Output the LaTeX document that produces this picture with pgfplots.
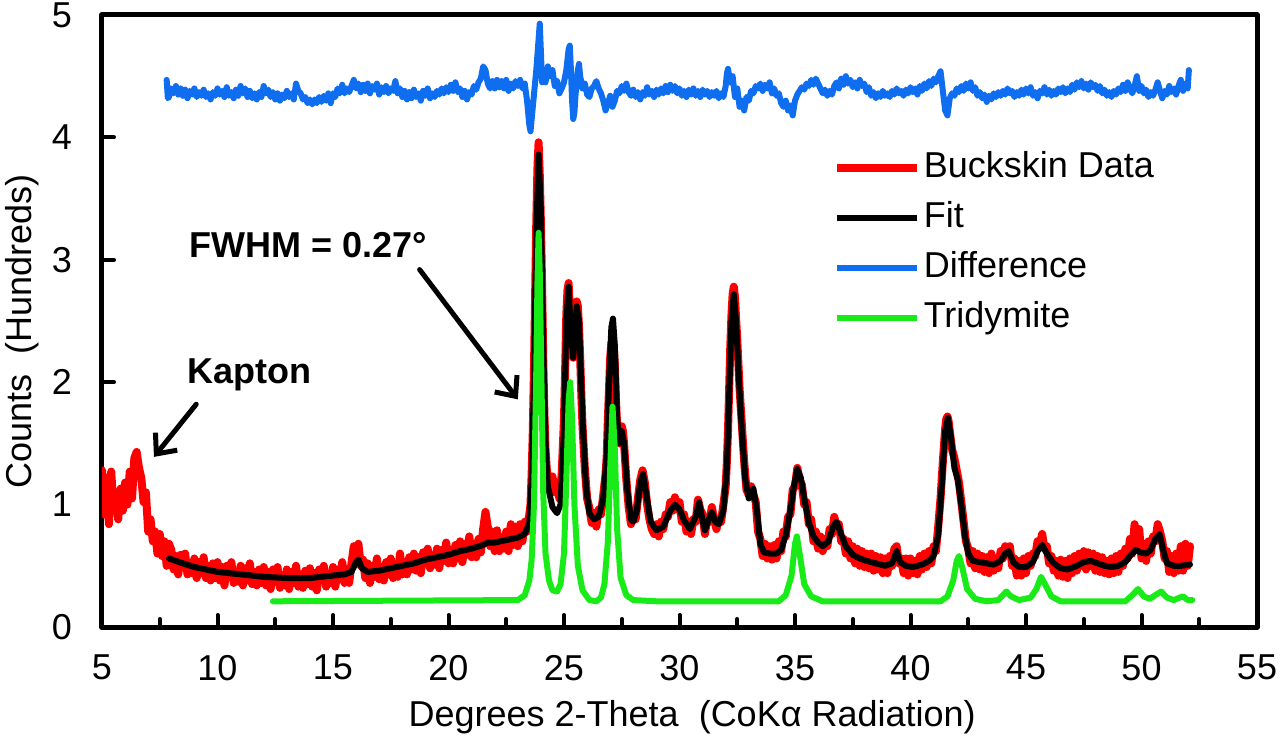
\documentclass[border=0pt]{standalone}
\usepackage{fontspec}
\setmainfont{Liberation Sans}
\usepackage{pgfplots}
\pgfplotsset{compat=1.18}
\usetikzlibrary{arrows.meta}

\definecolor{dataRed}{RGB}{255,0,0}
\definecolor{diffBlue}{RGB}{15,110,240}
\definecolor{tridGreen}{RGB}{25,235,25}

\begin{document}
\begin{tikzpicture}
\path[use as bounding box] (-51pt,-61.5pt) rectangle (589pt,313.5pt);
\begin{axis}[
  scale only axis,
  width=577.5pt, height=306pt,
  xmin=5, xmax=55, ymin=0, ymax=5,
  xtick={5,10,...,55}, ytick={0,1,...,5},
  minor x tick num=1,
  xtick pos=bottom, ytick pos=left,
  tick align=inside,
  major tick length=6pt, minor tick length=4pt,
  every tick/.style={black, line width=2pt},
  axis line style={line width=2.5pt, black},
  font=\fontsize{18}{21.6}\selectfont,
  /pgf/number format/assume math mode=true,
  ticklabel style={font=\fontsize{18}{21.6}\selectfont},
  xticklabel style={yshift=-10.5pt},
  yticklabel style={xshift=-11.5pt},
  xlabel={Degrees 2-Theta\ \ (CoKα Radiation)},
  ylabel={Counts\ \ (Hundreds)},
  xlabel style={at={(axis description cs:0.511,0)}, anchor=center, yshift=-45pt},
  ylabel style={at={(axis description cs:-0.0693,0.483)}, anchor=center},
  legend cell align=left,
  legend style={draw=none, fill=none, inner sep=0pt,
    at={(axis cs:36.62,3.915)}, anchor=north west,
    row sep=5pt,
    nodes={inner sep=1.5pt, text height=13pt, text depth=4pt},
    font=\fontsize{18}{21.6}\selectfont},
  legend image code/.code={\draw[#1] (0pt,0pt) -- (40pt,0pt);},
  line join=round, line cap=round,
]

% measured pattern
\addplot[dataRed, line width=4pt] coordinates {
(5.0,1.28)(5.1,0.92)(5.2,1.22)(5.3,0.84)(5.4,1.27)(5.5,0.95)(5.6,1.10)(5.7,0.88)(5.8,1.13)(5.9,0.95)
(6.0,1.18)(6.1,1.00)(6.2,1.27)(6.3,1.05)(6.4,1.38)(6.5,1.43)(6.6,1.30)(6.7,1.22)(6.8,1.02)(6.9,1.10)
(7.0,0.78)(7.1,0.88)(7.2,0.70)(7.3,0.78)(7.4,0.60)(7.5,0.76)(7.6,0.58)(7.7,0.70)(7.8,0.50)(7.9,0.68)
(8.0,0.63)(8.1,0.47)(8.2,0.58)(8.3,0.43)(8.4,0.59)(8.5,0.49)(8.6,0.60)(8.7,0.43)(8.8,0.52)(8.9,0.44)
(9.0,0.56)(9.1,0.40)(9.2,0.53)(9.3,0.44)(9.4,0.57)(9.5,0.40)(9.6,0.50)(9.7,0.38)(9.8,0.52)(9.9,0.40)
(10.0,0.53)(10.1,0.38)(10.2,0.49)(10.3,0.34)(10.4,0.50)(10.5,0.41)(10.6,0.53)(10.7,0.36)(10.8,0.45)(10.9,0.37)
(11.0,0.50)(11.1,0.34)(11.2,0.48)(11.3,0.38)(11.4,0.52)(11.5,0.35)(11.6,0.45)(11.7,0.34)(11.8,0.47)(11.9,0.36)
(12.0,0.49)(12.1,0.34)(12.2,0.45)(12.3,0.31)(12.4,0.47)(12.5,0.37)(12.6,0.49)(12.7,0.32)(12.8,0.42)(12.9,0.34)
(13.0,0.47)(13.1,0.31)(13.2,0.45)(13.3,0.36)(13.4,0.50)(13.5,0.33)(13.6,0.43)(13.7,0.32)(13.8,0.46)(13.9,0.35)
(14.0,0.48)(14.1,0.33)(14.2,0.44)(14.3,0.30)(14.4,0.47)(14.5,0.38)(14.6,0.50)(14.7,0.33)(14.8,0.43)(14.9,0.36)
(15.0,0.49)(15.1,0.33)(15.2,0.47)(15.3,0.39)(15.4,0.53)(15.5,0.36)(15.6,0.47)(15.7,0.36)(15.8,0.52)(15.9,0.66)
(16.0,0.60)(16.1,0.68)(16.2,0.50)(16.3,0.55)(16.4,0.40)(16.5,0.52)(16.6,0.36)(16.7,0.50)(16.8,0.41)(16.9,0.56)
(17.0,0.39)(17.1,0.49)(17.2,0.38)(17.3,0.53)(17.4,0.43)(17.5,0.56)(17.6,0.40)(17.7,0.51)(17.8,0.41)(17.9,0.60)
(18.0,0.43)(18.1,0.53)(18.2,0.43)(18.3,0.57)(18.4,0.47)(18.5,0.60)(18.6,0.46)(18.7,0.57)(18.8,0.44)(18.9,0.61)
(19.0,0.52)(19.1,0.64)(19.2,0.48)(19.3,0.58)(19.4,0.51)(19.5,0.64)(19.6,0.48)(19.7,0.63)(19.8,0.54)(19.9,0.69)
(20.0,0.52)(20.1,0.63)(20.2,0.52)(20.3,0.67)(20.4,0.56)(20.5,0.70)(20.6,0.53)(20.7,0.68)(20.8,0.59)(20.9,0.74)
(21.0,0.57)(21.1,0.68)(21.2,0.57)(21.3,0.72)(21.4,0.61)(21.5,0.80)(21.6,0.94)(21.7,0.82)(21.8,0.66)(21.9,0.78)
(22.0,0.62)(22.1,0.79)(22.2,0.62)(22.3,0.73)(22.4,0.64)(22.5,0.78)(22.6,0.62)(22.7,0.84)(22.8,0.67)(22.9,0.82)
(23.0,0.66)(23.1,0.84)(23.2,0.70)(23.3,0.86)(23.4,0.78)(23.5,0.92)(23.55,1.00)(23.6,1.25)(23.65,1.60)(23.7,2.10)
(23.75,2.70)(23.8,3.30)(23.85,3.75)(23.9,3.96)(23.95,3.70)(24.0,3.30)(24.05,2.80)(24.1,2.20)(24.15,1.75)(24.2,1.45)
(24.25,1.30)(24.3,1.22)(24.4,1.12)(24.5,1.23)(24.6,1.10)(24.7,1.18)(24.8,1.05)(24.9,1.25)(25.0,1.70)(25.05,2.10)
(25.1,2.55)(25.15,2.75)(25.2,2.81)(25.25,2.60)(25.3,2.40)(25.35,2.25)(25.4,2.20)(25.45,2.35)(25.5,2.55)(25.55,2.66)
(25.6,2.62)(25.65,2.45)(25.7,2.20)(25.75,1.90)(25.8,1.65)(25.9,1.30)(26.0,1.05)(26.1,0.97)(26.2,0.85)(26.3,0.93)
(26.4,0.82)(26.5,0.96)(26.6,0.92)(26.7,1.08)(26.8,1.25)(26.85,1.40)(26.9,1.70)(26.95,1.95)(27.0,2.20)(27.05,2.32)
(27.1,2.35)(27.15,2.30)(27.2,2.15)(27.25,1.85)(27.3,1.65)(27.35,1.52)(27.4,1.50)(27.45,1.58)(27.5,1.64)(27.55,1.60)
(27.6,1.50)(27.7,1.20)(27.8,0.98)(27.9,0.84)(28.0,0.92)(28.1,0.88)(28.2,1.05)(28.3,1.20)(28.4,1.28)(28.5,1.18)
(28.6,1.00)(28.7,0.88)(28.8,0.80)(28.9,0.76)(29.0,0.84)(29.1,0.74)(29.2,0.86)(29.3,0.80)(29.4,0.92)(29.5,0.90)
(29.6,1.02)(29.7,0.95)(29.8,1.06)(29.9,0.96)(30.0,1.02)(30.1,0.86)(30.2,0.92)(30.3,0.78)(30.4,0.86)(30.5,0.76)
(30.6,0.88)(30.7,0.86)(30.8,1.04)(30.9,0.96)(31.0,0.92)(31.1,0.76)(31.2,0.88)(31.3,0.86)(31.4,0.98)(31.5,0.88)
(31.6,0.80)(31.7,0.88)(31.8,0.86)(31.9,1.00)(32.0,1.15)(32.05,1.35)(32.1,1.60)(32.15,1.95)(32.2,2.30)(32.25,2.55)
(32.3,2.72)(32.35,2.78)(32.4,2.70)(32.45,2.52)(32.5,2.35)(32.55,2.15)(32.6,1.95)(32.7,1.65)(32.8,1.35)(32.9,1.12)
(33.0,1.08)(33.1,1.15)(33.2,1.08)(33.3,1.02)(33.4,0.78)(33.5,0.72)(33.6,0.58)(33.7,0.68)(33.8,0.56)(33.9,0.66)
(34.0,0.55)(34.1,0.67)(34.2,0.56)(34.3,0.70)(34.4,0.62)(34.5,0.78)(34.6,0.74)(34.7,0.90)(34.8,0.92)(34.9,1.12)
(35.0,1.15)(35.1,1.30)(35.2,1.20)(35.3,1.16)(35.4,1.00)(35.5,1.02)(35.6,0.84)(35.7,0.88)(35.8,0.70)(35.9,0.78)
(36.0,0.64)(36.1,0.74)(36.2,0.62)(36.3,0.72)(36.4,0.66)(36.5,0.80)(36.6,0.76)(36.7,0.90)(36.8,0.82)(36.9,0.84)
(37.0,0.70)(37.1,0.72)(37.2,0.60)(37.3,0.70)(37.4,0.56)(37.5,0.66)(37.6,0.52)(37.7,0.64)(37.8,0.50)(37.9,0.62)
(38.0,0.49)(38.1,0.60)(38.2,0.48)(38.3,0.60)(38.4,0.46)(38.5,0.58)(38.6,0.47)(38.7,0.57)(38.8,0.44)(38.9,0.56)
(39.0,0.44)(39.1,0.58)(39.2,0.50)(39.3,0.64)(39.4,0.66)(39.5,0.52)(39.6,0.56)(39.7,0.44)(39.8,0.56)(39.9,0.42)
(40.0,0.56)(40.1,0.44)(40.2,0.54)(40.3,0.43)(40.4,0.58)(40.5,0.47)(40.6,0.60)(40.7,0.49)(40.8,0.62)(40.9,0.52)
(41.0,0.66)(41.1,0.62)(41.2,0.82)(41.3,1.05)(41.4,1.35)(41.5,1.62)(41.55,1.70)(41.6,1.72)(41.65,1.68)(41.7,1.60)
(41.8,1.45)(41.9,1.38)(42.0,1.28)(42.1,1.18)(42.2,1.02)(42.3,0.86)(42.4,0.70)(42.5,0.64)(42.6,0.52)(42.7,0.62)
(42.8,0.48)(42.9,0.60)(43.0,0.47)(43.1,0.58)(43.2,0.45)(43.3,0.57)(43.4,0.44)(43.5,0.60)(43.6,0.46)(43.7,0.56)
(43.8,0.48)(43.9,0.62)(44.0,0.56)(44.1,0.66)(44.2,0.60)(44.3,0.66)(44.4,0.50)(44.5,0.56)(44.6,0.42)(44.7,0.54)
(44.8,0.42)(44.9,0.56)(45.0,0.44)(45.1,0.58)(45.2,0.50)(45.3,0.60)(45.4,0.58)(45.5,0.70)(45.6,0.68)(45.7,0.76)
(45.8,0.64)(45.9,0.66)(46.0,0.52)(46.1,0.58)(46.2,0.46)(46.3,0.54)(46.4,0.42)(46.5,0.55)(46.6,0.41)(46.7,0.54)
(46.8,0.40)(46.9,0.56)(47.0,0.44)(47.1,0.58)(47.2,0.46)(47.3,0.60)(47.4,0.50)(47.5,0.62)(47.6,0.47)(47.7,0.61)
(47.8,0.50)(47.9,0.60)(48.0,0.46)(48.1,0.58)(48.2,0.45)(48.3,0.57)(48.4,0.44)(48.5,0.54)(48.6,0.43)(48.7,0.56)
(48.8,0.44)(48.9,0.58)(49.0,0.45)(49.1,0.60)(49.2,0.50)(49.3,0.64)(49.4,0.56)(49.5,0.72)(49.6,0.60)(49.7,0.84)
(49.8,0.66)(49.9,0.80)(50.0,0.56)(50.1,0.68)(50.2,0.54)(50.3,0.70)(50.4,0.60)(50.5,0.74)(50.6,0.70)(50.7,0.84)
(50.8,0.78)(50.9,0.70)(51.0,0.56)(51.1,0.62)(51.2,0.45)(51.3,0.58)(51.4,0.44)(51.5,0.60)(51.6,0.46)(51.7,0.66)
(51.8,0.46)(51.9,0.68)(52.0,0.50)(52.1,0.66)
};
\addlegendentry{Buckskin Data}

% refined fit
\addplot[black, line width=3pt] coordinates {
(7.9,0.56)(8.5,0.52)(9.0,0.49)(9.5,0.47)(10.0,0.45)(10.5,0.44)(11.0,0.43)(11.5,0.42)(12.0,0.41)(12.5,0.405)
(13.0,0.40)(13.5,0.40)(14.0,0.40)(14.5,0.41)(15.0,0.42)(15.5,0.43)(15.8,0.45)(16.0,0.53)(16.1,0.55)(16.25,0.48)
(16.5,0.45)(17.0,0.46)(17.5,0.48)(18.0,0.50)(18.5,0.52)(19.0,0.55)(19.5,0.57)(20.0,0.59)(20.5,0.62)(21.0,0.64)
(21.5,0.67)(21.7,0.69)(22.0,0.69)(22.5,0.71)(23.0,0.73)(23.3,0.76)(23.5,0.85)(23.6,1.20)(23.7,2.00)(23.8,3.20)
(23.9,3.86)(24.0,3.40)(24.1,2.30)(24.2,1.50)(24.3,1.15)(24.5,0.98)(24.7,0.93)(24.85,1.00)(25.0,1.60)(25.1,2.50)
(25.2,2.78)(25.3,2.40)(25.4,2.20)(25.55,2.62)(25.65,2.50)(25.8,1.70)(25.95,1.15)(26.1,0.93)(26.3,0.88)(26.5,0.90)
(26.7,1.05)(26.85,1.40)(26.95,2.00)(27.05,2.45)(27.12,2.52)(27.2,2.30)(27.3,1.70)(27.4,1.50)(27.5,1.60)(27.6,1.50)
(27.75,1.10)(27.9,0.88)(28.0,0.86)(28.15,0.95)(28.3,1.18)(28.42,1.25)(28.55,1.10)(28.75,0.86)(29.0,0.79)(29.3,0.82)
(29.6,0.95)(29.8,1.00)(30.0,0.96)(30.2,0.87)(30.45,0.80)(30.7,0.90)(30.85,1.02)(31.0,0.87)(31.1,0.79)(31.25,0.87)
(31.4,0.94)(31.55,0.86)(31.7,0.84)(31.9,0.95)(32.05,1.30)(32.15,1.90)(32.25,2.50)(32.35,2.72)(32.45,2.50)(32.55,2.10)
(32.7,1.60)(32.85,1.20)(33.0,1.05)(33.2,1.13)(33.35,0.95)(33.5,0.68)(33.65,0.61)(33.9,0.60)(34.2,0.60)(34.4,0.63)
(34.6,0.75)(34.8,0.95)(34.95,1.15)(35.1,1.29)(35.25,1.22)(35.4,1.05)(35.6,0.85)(35.8,0.74)(36.0,0.69)(36.2,0.66)
(36.45,0.70)(36.65,0.82)(36.8,0.86)(36.95,0.78)(37.2,0.66)(37.5,0.59)(37.8,0.56)(38.1,0.54)(38.5,0.52)(38.9,0.50)
(39.2,0.52)(39.4,0.62)(39.55,0.53)(39.8,0.50)(40.1,0.49)(40.5,0.51)(40.8,0.54)(41.0,0.58)(41.2,0.75)(41.35,1.15)
(41.5,1.60)(41.62,1.71)(41.75,1.55)(41.9,1.30)(42.05,1.20)(42.2,1.00)(42.35,0.75)(42.5,0.60)(42.7,0.54)(43.0,0.53)
(43.3,0.52)(43.6,0.51)(43.9,0.54)(44.1,0.60)(44.25,0.62)(44.45,0.53)(44.7,0.49)(45.0,0.49)(45.3,0.53)(45.5,0.62)
(45.7,0.67)(45.9,0.60)(46.2,0.52)(46.5,0.48)(46.8,0.47)(47.2,0.50)(47.5,0.53)(47.8,0.54)(48.1,0.52)(48.4,0.50)
(48.7,0.49)(49.0,0.50)(49.3,0.53)(49.5,0.58)(49.75,0.63)(49.95,0.61)(50.2,0.60)(50.4,0.63)(50.6,0.72)(50.78,0.76)
(50.95,0.62)(51.1,0.52)(51.4,0.50)(51.7,0.50)(52.1,0.51)
};
\addlegendentry{Fit}

% difference curve, offset upward
\addplot[diffBlue, line width=3pt] coordinates {
(7.8,4.47)(7.85,4.32)(7.9,4.33)(8.0,4.40)(8.1,4.36)(8.2,4.42)(8.3,4.35)(8.4,4.40)(8.5,4.34)(8.6,4.39)(8.7,4.32)
(8.8,4.38)(8.9,4.35)(9.0,4.40)(9.1,4.33)(9.2,4.37)(9.3,4.34)(9.4,4.39)(9.5,4.33)(9.6,4.36)(9.7,4.31)
(9.8,4.37)(9.9,4.34)(10.0,4.40)(10.1,4.35)(10.2,4.38)(10.3,4.33)(10.4,4.41)(10.5,4.34)(10.6,4.37)(10.7,4.32)
(10.8,4.39)(10.9,4.34)(11.0,4.42)(11.1,4.36)(11.2,4.40)(11.3,4.33)(11.4,4.38)(11.5,4.32)(11.6,4.36)(11.7,4.31)
(11.8,4.37)(11.9,4.33)(12.0,4.42)(12.1,4.36)(12.2,4.39)(12.3,4.33)(12.4,4.37)(12.5,4.31)(12.6,4.36)(12.7,4.30)
(12.8,4.35)(12.9,4.32)(13.0,4.38)(13.1,4.33)(13.2,4.36)(13.3,4.31)(13.4,4.44)(13.5,4.38)(13.6,4.36)(13.7,4.31)
(13.8,4.33)(13.9,4.28)(14.0,4.31)(14.1,4.27)(14.2,4.31)(14.3,4.28)(14.4,4.33)(14.5,4.29)(14.6,4.34)(14.7,4.30)
(14.8,4.36)(14.9,4.28)(15.0,4.36)(15.1,4.33)(15.2,4.40)(15.3,4.36)(15.4,4.43)(15.5,4.36)(15.6,4.40)(15.7,4.37)
(15.8,4.42)(15.9,4.47)(16.0,4.40)(16.1,4.44)(16.2,4.37)(16.3,4.43)(16.4,4.38)(16.5,4.44)(16.6,4.36)(16.7,4.42)
(16.8,4.39)(16.9,4.44)(17.0,4.35)(17.1,4.41)(17.2,4.37)(17.3,4.42)(17.4,4.36)(17.5,4.40)(17.6,4.38)(17.7,4.46)
(17.8,4.36)(17.9,4.40)(18.0,4.33)(18.1,4.38)(18.2,4.31)(18.3,4.37)(18.4,4.32)(18.5,4.39)(18.6,4.33)(18.7,4.36)
(18.8,4.30)(18.9,4.38)(19.0,4.34)(19.1,4.40)(19.2,4.32)(19.3,4.36)(19.4,4.33)(19.5,4.38)(19.6,4.35)(19.7,4.40)
(19.8,4.36)(19.9,4.41)(20.0,4.37)(20.1,4.43)(20.2,4.38)(20.3,4.45)(20.4,4.37)(20.5,4.40)(20.6,4.33)(20.7,4.38)
(20.8,4.31)(20.9,4.37)(21.0,4.35)(21.1,4.42)(21.2,4.39)(21.3,4.45)(21.4,4.48)(21.5,4.58)(21.6,4.55)(21.7,4.44)
(21.8,4.40)(21.9,4.46)(22.0,4.40)(22.1,4.47)(22.2,4.41)(22.3,4.46)(22.4,4.40)(22.5,4.47)(22.6,4.38)(22.7,4.44)
(22.8,4.40)(22.9,4.46)(23.0,4.42)(23.1,4.47)(23.2,4.40)(23.3,4.44)(23.4,4.30)(23.5,4.10)(23.55,4.05)(23.6,4.15)
(23.7,4.35)(23.8,4.55)(23.9,4.80)(23.95,4.93)(24.0,4.70)(24.05,4.45)(24.1,4.52)(24.2,4.45)(24.3,4.58)(24.4,4.50)
(24.5,4.55)(24.6,4.42)(24.7,4.46)(24.8,4.36)(24.9,4.40)(25.0,4.45)(25.1,4.55)(25.2,4.72)(25.25,4.75)(25.3,4.55)
(25.35,4.30)(25.4,4.15)(25.45,4.20)(25.5,4.35)(25.6,4.55)(25.65,4.60)(25.7,4.50)(25.8,4.40)(25.9,4.44)(26.0,4.35)
(26.1,4.33)(26.2,4.40)(26.3,4.42)(26.4,4.46)(26.5,4.40)(26.6,4.36)(26.7,4.30)(26.8,4.22)(26.9,4.28)(27.0,4.34)
(27.1,4.25)(27.2,4.30)(27.3,4.38)(27.4,4.36)(27.5,4.42)(27.6,4.38)(27.7,4.44)(27.8,4.37)(27.9,4.34)(28.0,4.39)
(28.1,4.33)(28.2,4.37)(28.3,4.31)(28.4,4.37)(28.5,4.34)(28.6,4.41)(28.7,4.35)(28.8,4.38)(28.9,4.33)(29.0,4.39)
(29.1,4.35)(29.2,4.40)(29.3,4.36)(29.4,4.42)(29.5,4.37)(29.6,4.43)(29.7,4.38)(29.8,4.42)(29.9,4.36)(30.0,4.40)
(30.1,4.34)(30.2,4.38)(30.3,4.33)(30.4,4.39)(30.5,4.35)(30.6,4.40)(30.7,4.34)(30.8,4.38)(30.9,4.33)(31.0,4.39)
(31.1,4.35)(31.2,4.38)(31.3,4.33)(31.4,4.37)(31.5,4.34)(31.6,4.38)(31.7,4.32)(31.8,4.36)(31.9,4.33)(32.0,4.42)
(32.05,4.52)(32.1,4.56)(32.2,4.45)(32.3,4.50)(32.4,4.33)(32.5,4.40)(32.6,4.25)(32.7,4.30)(32.8,4.22)(32.9,4.33)
(33.0,4.30)(33.1,4.38)(33.2,4.36)(33.3,4.42)(33.4,4.40)(33.5,4.44)(33.6,4.38)(33.7,4.43)(33.8,4.40)(33.9,4.45)
(34.0,4.36)(34.1,4.40)(34.2,4.34)(34.3,4.36)(34.4,4.28)(34.5,4.25)(34.6,4.30)(34.7,4.22)(34.8,4.26)(34.9,4.18)
(35.0,4.30)(35.1,4.35)(35.2,4.38)(35.3,4.41)(35.4,4.39)(35.5,4.44)(35.6,4.42)(35.7,4.47)(35.8,4.43)(35.9,4.48)
(36.0,4.44)(36.1,4.40)(36.2,4.36)(36.3,4.39)(36.4,4.34)(36.5,4.38)(36.6,4.35)(36.7,4.42)(36.8,4.45)(36.9,4.40)
(37.0,4.48)(37.1,4.43)(37.2,4.50)(37.3,4.44)(37.4,4.47)(37.5,4.41)(37.6,4.45)(37.7,4.40)(37.8,4.47)(37.9,4.42)
(38.0,4.44)(38.1,4.37)(38.2,4.41)(38.3,4.34)(38.4,4.37)(38.5,4.32)(38.6,4.36)(38.7,4.33)(38.8,4.38)(38.9,4.34)
(39.0,4.36)(39.1,4.33)(39.2,4.38)(39.3,4.35)(39.4,4.40)(39.5,4.36)(39.6,4.38)(39.7,4.34)(39.8,4.39)(39.9,4.36)
(40.0,4.41)(40.1,4.37)(40.2,4.40)(40.3,4.35)(40.4,4.42)(40.5,4.38)(40.6,4.44)(40.7,4.40)(40.8,4.46)(40.9,4.42)
(41.0,4.48)(41.1,4.45)(41.2,4.50)(41.3,4.54)(41.4,4.38)(41.5,4.22)(41.6,4.18)(41.7,4.32)(41.8,4.36)(41.9,4.34)
(42.0,4.40)(42.1,4.37)(42.2,4.42)(42.3,4.38)(42.4,4.44)(42.5,4.40)(42.6,4.45)(42.7,4.38)(42.8,4.41)(42.9,4.34)
(43.0,4.37)(43.1,4.32)(43.2,4.35)(43.3,4.29)(43.4,4.34)(43.5,4.31)(43.6,4.36)(43.7,4.33)(43.8,4.37)(43.9,4.34)
(44.0,4.38)(44.1,4.35)(44.2,4.40)(44.3,4.36)(44.4,4.38)(44.5,4.33)(44.6,4.37)(44.7,4.34)(44.8,4.39)(44.9,4.35)
(45.0,4.40)(45.1,4.36)(45.2,4.41)(45.3,4.34)(45.4,4.37)(45.5,4.32)(45.6,4.38)(45.7,4.36)(45.8,4.41)(45.9,4.35)
(46.0,4.39)(46.1,4.34)(46.2,4.38)(46.3,4.35)(46.4,4.40)(46.5,4.37)(46.6,4.41)(46.7,4.36)(46.8,4.40)(46.9,4.37)
(47.0,4.43)(47.1,4.39)(47.2,4.45)(47.3,4.41)(47.4,4.46)(47.5,4.40)(47.6,4.44)(47.7,4.39)(47.8,4.45)(47.9,4.41)
(48.0,4.43)(48.1,4.38)(48.2,4.42)(48.3,4.36)(48.4,4.39)(48.5,4.34)(48.6,4.37)(48.7,4.33)(48.8,4.38)(48.9,4.35)
(49.0,4.40)(49.1,4.37)(49.2,4.43)(49.3,4.38)(49.4,4.45)(49.5,4.40)(49.6,4.36)(49.7,4.42)(49.8,4.50)(49.9,4.38)
(50.0,4.42)(50.1,4.36)(50.2,4.39)(50.3,4.33)(50.4,4.37)(50.5,4.34)(50.6,4.39)(50.7,4.45)(50.8,4.38)(50.9,4.32)
(51.0,4.38)(51.1,4.35)(51.2,4.42)(51.3,4.37)(51.4,4.40)(51.5,4.35)(51.6,4.42)(51.7,4.47)(51.8,4.38)(51.9,4.44)
(52.0,4.40)(52.05,4.55)
};
\addlegendentry{Difference}

% tridymite phase contribution
\addplot[tridGreen, line width=3pt] coordinates {
(12.4,0.21)(23.0,0.22)(23.3,0.26)(23.5,0.38)(23.6,0.55)(23.7,1.00)(23.8,2.10)(23.85,2.80)(23.9,3.22)(23.95,2.90)
(24.0,2.30)(24.1,1.10)(24.2,0.60)(24.35,0.38)(24.5,0.30)(24.7,0.29)(24.85,0.35)(25.0,0.60)(25.1,1.20)(25.2,1.85)
(25.27,2.00)(25.35,1.70)(25.45,1.00)(25.6,0.50)(25.8,0.30)(26.1,0.22)(26.4,0.21)(26.6,0.24)(26.75,0.35)(26.9,0.70)
(27.0,1.30)(27.1,1.80)(27.2,1.45)(27.3,0.80)(27.45,0.40)(27.7,0.26)(28.0,0.22)(29.0,0.21)(34.3,0.21)(34.6,0.26)
(34.85,0.42)(35.0,0.68)(35.08,0.74)(35.2,0.60)(35.4,0.35)(35.7,0.25)(36.2,0.21)(41.3,0.21)(41.6,0.25)(41.85,0.38)
(42.0,0.54)(42.1,0.58)(42.25,0.48)(42.45,0.31)(42.8,0.23)(43.3,0.21)(43.8,0.22)(44.0,0.26)(44.15,0.29)(44.35,0.25)
(44.7,0.22)(45.2,0.24)(45.45,0.31)(45.65,0.41)(45.85,0.34)(46.1,0.25)(46.5,0.21)(49.3,0.21)(49.6,0.26)(49.85,0.31)
(50.1,0.25)(50.35,0.23)(50.6,0.26)(50.85,0.29)(51.1,0.24)(51.4,0.22)(51.65,0.24)(51.8,0.25)(52.0,0.22)(52.2,0.22)
};
\addlegendentry{Tridymite}

% annotations
\node[font=\fontsize{18}{21.6}\selectfont\bfseries] at (axis cs:11.37,2.06) {Kapton};
\node[font=\fontsize{18}{21.6}\selectfont\bfseries] at (axis cs:13.93,3.12) {FWHM = 0.27°};
\draw[line width=2.5pt, -{Straight Barb[length=8pt,width=14pt]}] (axis cs:9.08,1.82) -- (axis cs:7.25,1.39);
\draw[line width=2.5pt, -{Straight Barb[length=8pt,width=14pt]}] (axis cs:18.75,2.92) -- (axis cs:23.0,1.86);
\end{axis}
\end{tikzpicture}
\end{document}
